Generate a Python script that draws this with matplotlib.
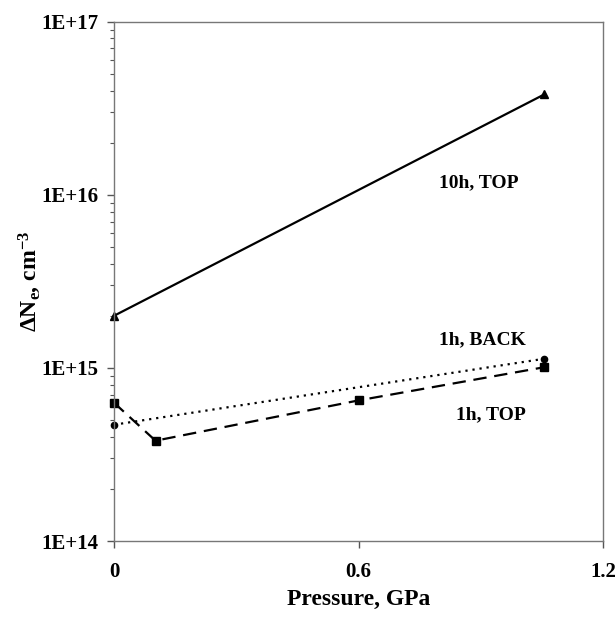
import math
import matplotlib.pyplot as plt
import matplotlib.ticker as mticker
import matplotlib

matplotlib.rcParams['font.family'] = 'Liberation Serif'
matplotlib.rcParams['font.weight'] = 'bold'
matplotlib.rcParams['mathtext.fontset'] = 'custom'
matplotlib.rcParams['mathtext.rm'] = 'Liberation Serif:bold'
matplotlib.rcParams['mathtext.bf'] = 'Liberation Serif:bold'
matplotlib.rcParams['mathtext.it'] = 'Liberation Serif:bold'

# data
x_10h_top = [0, 1.056]
y_10h_top = [2.0e15, 3.8e16]

x_1h_back = [0, 1.056]
y_1h_back = [4.7e14, 1.13e15]

x_1h_top = [0, 0.102, 0.601, 1.056]
y_1h_top = [6.3e14, 3.8e14, 6.5e14, 1.01e15]

labels = ['10h, TOP', '1h, BACK', '1h, TOP']
label_pos = [(0.895, 1.17e16), (0.905, 1.46e15), (0.925, 5.4e14)]

fig = plt.figure(figsize=(6.16, 6.17), dpi=100)
ax = fig.add_axes([0.185, 0.123, 0.794, 0.842])

ax.plot(x_10h_top, y_10h_top, color='black', lw=1.6, marker='^', ms=6, clip_on=False)
ax.plot(x_1h_back, y_1h_back, color='black', lw=1.6, ls=(0, (1, 2.2)), marker='o', ms=4.5, clip_on=False)
ax.plot(x_1h_top, y_1h_top, color='black', lw=1.6, ls=(0, (6, 3.5)), marker='s', ms=5.5, clip_on=False)

for txt, (tx, ty) in zip(labels, label_pos):
    ax.text(tx, ty, txt, ha='center', va='center', fontsize=14, fontweight='bold')

ax.set_yscale('log')
ax.set_ylim(1e14, 1e17)
ax.set_xlim(0, 1.2)
ax.set_xticks([0, 0.6, 1.2])
ax.set_xticklabels(['0', '0.6', '1.2'])
ax.yaxis.set_major_formatter(mticker.FuncFormatter(lambda v, p: '1E+%d' % int(round(math.log10(v)))))
ax.yaxis.set_minor_locator(mticker.LogLocator(base=10, subs=range(2, 10)))
ax.yaxis.set_minor_formatter(mticker.NullFormatter())

ax.tick_params(axis='both', which='major', direction='out', length=5, width=1, labelsize=15, colors='#555555', labelcolor='black', pad=6)
ax.tick_params(axis='x', which='major', pad=10)
ax.tick_params(axis='y', which='minor', direction='out', length=3, width=0.8, colors='#555555')
for s in ax.spines.values():
    s.set_color('#777777')
    s.set_linewidth(1.0)

ax.set_xlabel('Pressure, GPa', fontsize=17, fontweight='bold', labelpad=5)
ax.set_ylabel(r'$\Delta$N$_\mathrm{e}$, cm$^{\mathrm{-3}}$', fontsize=17, fontweight='bold')
ax.yaxis.set_label_coords(-0.145, 0.5)

plt.savefig('out.png', dpi=100)
